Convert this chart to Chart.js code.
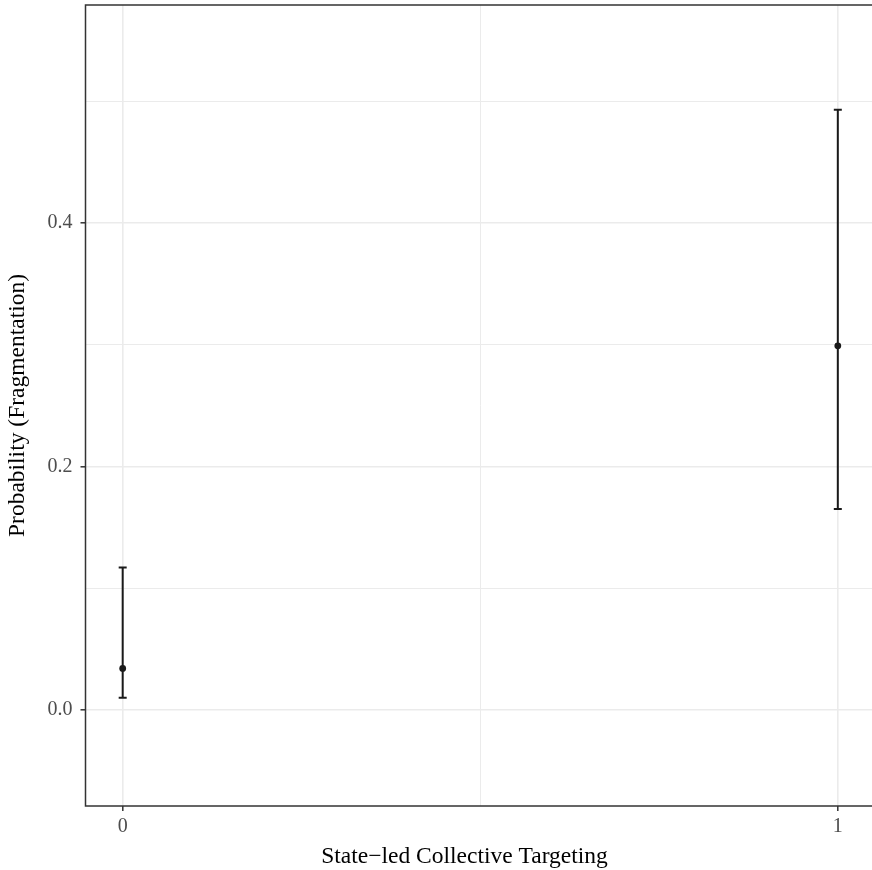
<!DOCTYPE html>
<html>
<head>
<meta charset="utf-8">
<script src="https://cdn.jsdelivr.net/npm/chart.js@4/dist/chart.umd.min.js"></script>
<style>
  html, body { margin: 0; padding: 0; background: #fff; overflow: hidden; }
  canvas { display: block; }
</style>
</head>
<body>
<canvas id="chart" width="878" height="870"></canvas>
<script>
// data
const categories = [0, 1]
const estimate = [0.034, 0.299]
const lower = [0.010, 0.165]
const upper = [0.117, 0.493]

// breaks
const xBreaks = [0, 1]
const xMinor = [0.5]
const yBreaks = [0, 0.2, 0.4]
const yMinor = [0.1, 0.3, 0.5]

const xTitle = 'State\u2212led Collective Targeting'
const yTitle = 'Probability (Fragmentation)'

const serif = '"Liberation Serif", "Times New Roman", serif'
const gridCol = '#ebebeb'
const darkCol = '#333333'

// error bars: one line dataset per category, caps via 'line' point style
const errorSets = categories.map((c, i) => ({
  data: [{ x: c, y: lower[i] }, { x: c, y: upper[i] }],
  showLine: true,
  borderColor: '#1a1a1a',
  borderWidth: 2,
  pointStyle: 'line',
  pointRadius: 4,
  pointBorderWidth: 2,
  pointBorderColor: '#1a1a1a',
}))

const pointSet = {
  data: categories.map((c, i) => ({ x: c, y: estimate[i] })),
  showLine: false,
  pointRadius: 3.4,
  pointBackgroundColor: '#1a1a1a',
  pointBorderWidth: 0,
}

// panel border (top/left/bottom; right edge lies just off the page)
const panelBorder = {
  id: 'panelBorder',
  beforeDatasetsDraw(chart) {
    const { ctx, chartArea: a } = chart
    ctx.save()
    ctx.strokeStyle = darkCol
    ctx.lineWidth = 1.5
    ctx.strokeRect(a.left, a.top, a.right - a.left, a.bottom - a.top)
    ctx.restore()
  },
}

// x axis title (ggplot centres it on the full panel width of the original figure)
const xAxisTitle = {
  id: 'xAxisTitle',
  afterDraw(chart) {
    const ctx = chart.ctx
    ctx.save()
    ctx.font = '23.5px ' + serif
    ctx.fillStyle = '#000'
    ctx.textAlign = 'center'
    ctx.textBaseline = 'alphabetic'
    ctx.fillText(xTitle, 464.5, 863)
    ctx.restore()
  },
}

const isMajor = (list, v) => list.some((b) => Math.abs(b - v) < 1e-9)

new Chart(document.getElementById('chart'), {
  type: 'scatter',
  data: { datasets: [...errorSets, pointSet] },
  options: {
    responsive: false,
    animation: false,
    layout: { autoPadding: false, padding: { top: 5, right: 3, left: 0, bottom: 0 } },
    plugins: { legend: { display: false }, tooltip: { enabled: false } },
    scales: {
      x: {
        type: 'linear',
        min: -0.052,
        max: 1.052,
        afterBuildTicks: (s) => {
          s.ticks = [...xBreaks, ...xMinor].sort((a, b) => a - b).map((v) => ({ value: v }))
        },
        afterFit: (s) => {
          s.height = 64
          s.paddingLeft = 0
          s.paddingRight = 0
        },
        border: { display: false },
        grid: {
          color: gridCol,
          lineWidth: (c) => (c.tick && isMajor(xBreaks, c.tick.value) ? 1.6 : 1),
          tickColor: (c) => (c.tick && isMajor(xBreaks, c.tick.value) ? darkCol : 'rgba(0,0,0,0)'),
          tickWidth: 1.5,
          tickLength: 5,
        },
        ticks: {
          autoSkip: false,
          maxRotation: 0,
          padding: 4,
          color: '#4d4d4d',
          font: { family: serif, size: 20 },
          callback: (v) => (isMajor(xBreaks, v) ? String(v) : ''),
        },
        title: { display: false },
      },
      y: {
        type: 'linear',
        min: -0.079,
        max: 0.579,
        afterBuildTicks: (s) => {
          s.ticks = [...yBreaks, ...yMinor].sort((a, b) => a - b).map((v) => ({ value: v }))
        },
        afterFit: (s) => {
          s.width = 85.5
          s.paddingTop = 0
          s.paddingBottom = 0
        },
        border: { display: false },
        grid: {
          color: gridCol,
          lineWidth: (c) => (c.tick && isMajor(yBreaks, c.tick.value) ? 1.6 : 1),
          tickColor: (c) => (c.tick && isMajor(yBreaks, c.tick.value) ? darkCol : 'rgba(0,0,0,0)'),
          tickWidth: 1.5,
          tickLength: 5,
        },
        ticks: {
          autoSkip: false,
          padding: 8,
          color: '#4d4d4d',
          font: { family: serif, size: 20 },
          callback: (v) => (isMajor(yBreaks, v) ? v.toFixed(1) : ''),
        },
        title: {
          display: true,
          text: yTitle,
          color: '#000',
          font: { family: serif, size: 23.5 },
          padding: { top: 4, bottom: 0 },
        },
      },
    },
  },
  plugins: [panelBorder, xAxisTitle],
})
</script>
</body>
</html>
